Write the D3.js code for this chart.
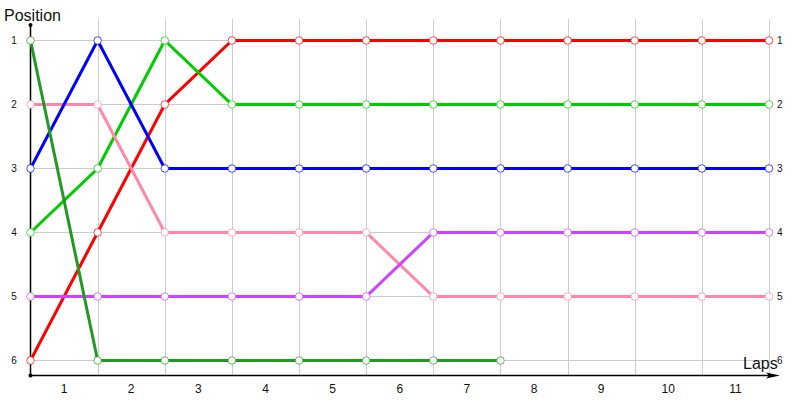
<!DOCTYPE html>
<html>
<head>
<meta charset="utf-8">
<script src="https://cdn.jsdelivr.net/npm/d3@7"></script>
<style>
	body { margin: 0; background: #fff; }
	svg text { font-family: "Liberation Sans", Arial, sans-serif; }
</style>
</head>
<body>
<svg id="canvas" width="800" height="400"></svg>
<script>
var laps = [0, 1, 2, 3, 4, 5, 6, 7, 8, 9, 10, 11];
var lapLabels = ['1', '2', '3', '4', '5', '6', '7', '8', '9', '10', '11'];
var positions = [1, 2, 3, 4, 5, 6];

var redPos = [6, 4, 2, 1, 1, 1, 1, 1, 1, 1, 1, 1];
var limePos = [4, 3, 1, 2, 2, 2, 2, 2, 2, 2, 2, 2];
var pinkPos = [2, 2, 4, 4, 4, 4, 5, 5, 5, 5, 5, 5];
var purplePos = [5, 5, 5, 5, 5, 5, 4, 4, 4, 4, 4, 4];
var bluePos = [3, 1, 3, 3, 3, 3, 3, 3, 3, 3, 3, 3];
var darkGreenPos = [1, 6, 6, 6, 6, 6, 6, 6];

// drawing order follows the overlaps in the picture
var series = [
	{ pos: redPos, color: '#ff0000' },
	{ pos: limePos, color: '#00cc00' },
	{ pos: pinkPos, color: '#ff88aa' },
	{ pos: purplePos, color: '#cc44ff' },
	{ pos: bluePos, color: '#0000ff' },
	{ pos: darkGreenPos, color: '#229922' }
];

var svg = d3.select('#canvas');
var x = d3.scaleLinear().domain([0, 11]).range([30.5, 769]);
var y = d3.scaleLinear().domain([1, 6]).range([40.5, 360.5]);
var axisY = 375.5;

// grid
svg.append('g').selectAll('line')
	.data(laps.slice(1))
	.enter().append('line')
	.attr('x1', function(d){ return Math.round(x(d)) + 0.5; })
	.attr('x2', function(d){ return Math.round(x(d)) + 0.5; })
	.attr('y1', 19)
	.attr('y2', axisY)
	.attr('stroke', '#cccccc')
	.attr('stroke-width', 1);

svg.append('g').selectAll('line')
	.data(positions)
	.enter().append('line')
	.attr('x1', x(0))
	.attr('x2', x(11))
	.attr('y1', function(d){ return y(d); })
	.attr('y2', function(d){ return y(d); })
	.attr('stroke', '#cccccc')
	.attr('stroke-width', 1);

// axes
svg.append('line')
	.attr('x1', 30.5).attr('x2', 30.5)
	.attr('y1', 25).attr('y2', axisY)
	.attr('stroke', 'black').attr('stroke-width', 1.5);
svg.append('line')
	.attr('x1', 30.5).attr('x2', 772)
	.attr('y1', axisY).attr('y2', axisY)
	.attr('stroke', 'black').attr('stroke-width', 1.5);
svg.append('path')
	.attr('d', 'M 766 372.5 L 780 ' + axisY + ' L 766 378.5 L 769 ' + axisY + ' Z')
	.attr('fill', 'black');
svg.append('circle').attr('cx', 30.5).attr('cy', 25).attr('r', 2).attr('fill', 'black');
svg.append('circle').attr('cx', 30.5).attr('cy', axisY).attr('r', 2).attr('fill', 'black');

// labels
svg.append('g').selectAll('text')
	.data(lapLabels)
	.enter().append('text')
	.attr('x', function(d, i){ return x(i + 0.5); })
	.attr('y', 393)
	.attr('text-anchor', 'middle')
	.attr('font-size', 12)
	.attr('fill', '#111')
	.text(function(d){ return d; });

svg.append('g').selectAll('text')
	.data(positions)
	.enter().append('text')
	.attr('x', 14)
	.attr('y', function(d){ return y(d) + 3.5; })
	.attr('text-anchor', 'middle')
	.attr('font-size', 10)
	.attr('fill', '#111')
	.text(function(d){ return d; });

svg.append('g').selectAll('text')
	.data(positions)
	.enter().append('text')
	.attr('x', 777)
	.attr('y', function(d){ return y(d) + 3.5; })
	.attr('font-size', 10)
	.attr('fill', '#111')
	.text(function(d){ return d; });

svg.append('text')
	.attr('x', 4).attr('y', 21)
	.attr('font-size', 16)
	.attr('fill', '#111')
	.text('Position');
svg.append('text')
	.attr('x', 743).attr('y', 369)
	.attr('font-size', 16)
	.attr('fill', '#111')
	.text('Laps');

// lines
var line = d3.line()
	.x(function(d, i){ return x(i); })
	.y(function(d){ return y(d); });

series.forEach(function(s){
	svg.append('path')
		.datum(s.pos)
		.attr('d', line)
		.attr('fill', 'none')
		.attr('stroke', s.color)
		.attr('stroke-width', 3);
});

series.forEach(function(s){
	svg.append('g').selectAll('circle')
		.data(s.pos)
		.enter().append('circle')
		.attr('cx', function(d, i){ return x(i); })
		.attr('cy', function(d){ return y(d); })
		.attr('r', 3.8)
		.attr('fill', 'white')
		.attr('stroke', s.color)
		.attr('stroke-opacity', 0.7)
		.attr('stroke-width', 1);
});
</script>
</body>
</html>
